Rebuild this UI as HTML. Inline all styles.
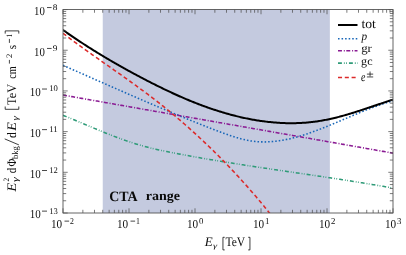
<!DOCTYPE html>
<html><head><meta charset="utf-8"><title>CTA background</title>
<style>
html,body{margin:0;padding:0;background:#fff;}
svg{display:block;font-family:"Liberation Serif",serif;will-change:transform;text-rendering:geometricPrecision;}
</style></head>
<body>
<svg width="406" height="255" viewBox="0 0 406 255">
<rect width="406" height="255" fill="#ffffff"/>
<defs><clipPath id="c"><rect x="63.0" y="9.55" width="330.00" height="203.45"/></clipPath></defs>
<rect x="102.75" y="9.55" width="227.10" height="203.45" fill="#c4cadf"/>
<g clip-path="url(#c)" fill="none" stroke-linejoin="round">
<path d="M63.00,65.29 L64.10,65.78 L65.21,66.26 L66.31,66.75 L67.41,67.24 L68.52,67.73 L69.62,68.21 L70.73,68.70 L71.83,69.19 L72.93,69.68 L74.04,70.17 L75.14,70.65 L76.24,71.14 L77.35,71.63 L78.45,72.12 L79.56,72.61 L80.66,73.09 L81.76,73.58 L82.87,74.07 L83.97,74.56 L85.07,75.05 L86.18,75.53 L87.28,76.02 L88.38,76.51 L89.49,77.00 L90.59,77.48 L91.70,77.97 L92.80,78.46 L93.90,78.94 L95.01,79.43 L96.11,79.92 L97.21,80.40 L98.32,80.89 L99.42,81.38 L100.53,81.86 L101.63,82.35 L102.73,82.83 L103.84,83.32 L104.94,83.81 L106.04,84.29 L107.15,84.78 L108.25,85.26 L109.35,85.74 L110.46,86.23 L111.56,86.71 L112.67,87.20 L113.77,87.68 L114.87,88.16 L115.98,88.65 L117.08,89.13 L118.18,89.61 L119.29,90.10 L120.39,90.58 L121.49,91.06 L122.60,91.54 L123.70,92.02 L124.81,92.50 L125.91,92.98 L127.01,93.46 L128.12,93.94 L129.22,94.42 L130.32,94.90 L131.43,95.38 L132.53,95.86 L133.64,96.34 L134.74,96.81 L135.84,97.29 L136.95,97.77 L138.05,98.25 L139.15,98.72 L140.26,99.20 L141.36,99.67 L142.46,100.15 L143.57,100.62 L144.67,101.10 L145.78,101.57 L146.88,102.04 L147.98,102.51 L149.09,102.99 L150.19,103.46 L151.29,103.93 L152.40,104.40 L153.50,104.87 L154.61,105.34 L155.71,105.81 L156.81,106.28 L157.92,106.75 L159.02,107.21 L160.12,107.68 L161.23,108.15 L162.33,108.61 L163.43,109.08 L164.54,109.54 L165.64,110.01 L166.75,110.47 L167.85,110.93 L168.95,111.40 L170.06,111.86 L171.16,112.32 L172.26,112.78 L173.37,113.24 L174.47,113.70 L175.58,114.16 L176.68,114.62 L177.78,115.07 L178.89,115.53 L179.99,115.99 L181.09,116.44 L182.20,116.90 L183.30,117.35 L184.40,117.80 L185.51,118.26 L186.61,118.71 L187.72,119.16 L188.82,119.61 L189.92,120.06 L191.03,120.51 L192.13,120.96 L193.23,121.40 L194.34,121.85 L195.44,122.30 L196.55,122.74 L197.65,123.18 L198.75,123.63 L199.86,124.07 L200.96,124.51 L202.06,124.95 L203.17,125.39 L204.27,125.82 L205.37,126.26 L206.48,126.69 L207.58,127.12 L208.69,127.55 L209.79,127.98 L210.89,128.41 L212.00,128.84 L213.10,129.26 L214.20,129.69 L215.31,130.11 L216.41,130.53 L217.52,130.94 L218.62,131.36 L219.72,131.77 L220.83,132.19 L221.93,132.60 L223.03,133.00 L224.14,133.41 L225.24,133.81 L226.34,134.21 L227.45,134.60 L228.55,134.99 L229.66,135.37 L230.76,135.75 L231.86,136.12 L232.97,136.49 L234.07,136.84 L235.17,137.19 L236.28,137.53 L237.38,137.86 L238.48,138.18 L239.59,138.49 L240.69,138.79 L241.80,139.08 L242.90,139.35 L244.00,139.61 L245.11,139.86 L246.21,140.10 L247.31,140.32 L248.42,140.53 L249.52,140.72 L250.63,140.90 L251.73,141.06 L252.83,141.21 L253.94,141.35 L255.04,141.46 L256.14,141.57 L257.25,141.66 L258.35,141.73 L259.45,141.80 L260.56,141.84 L261.66,141.88 L262.77,141.90 L263.87,141.91 L264.97,141.90 L266.08,141.89 L267.18,141.86 L268.28,141.82 L269.39,141.76 L270.49,141.70 L271.60,141.62 L272.70,141.53 L273.80,141.43 L274.91,141.31 L276.01,141.19 L277.11,141.05 L278.22,140.91 L279.32,140.75 L280.42,140.58 L281.53,140.41 L282.63,140.22 L283.74,140.02 L284.84,139.82 L285.94,139.60 L287.05,139.37 L288.15,139.14 L289.25,138.89 L290.36,138.64 L291.46,138.38 L292.57,138.11 L293.67,137.83 L294.77,137.54 L295.88,137.25 L296.98,136.95 L298.08,136.64 L299.19,136.32 L300.29,136.00 L301.39,135.66 L302.50,135.32 L303.60,134.98 L304.71,134.63 L305.81,134.27 L306.91,133.90 L308.02,133.53 L309.12,133.16 L310.22,132.77 L311.33,132.39 L312.43,131.99 L313.54,131.60 L314.64,131.19 L315.74,130.78 L316.85,130.37 L317.95,129.95 L319.05,129.53 L320.16,129.11 L321.26,128.68 L322.36,128.25 L323.47,127.81 L324.57,127.37 L325.68,126.93 L326.78,126.48 L327.88,126.03 L328.99,125.58 L330.09,125.12 L331.19,124.67 L332.30,124.21 L333.40,123.75 L334.51,123.29 L335.61,122.82 L336.71,122.36 L337.82,121.89 L338.92,121.42 L340.02,120.95 L341.13,120.49 L342.23,120.02 L343.33,119.55 L344.44,119.07 L345.54,118.60 L346.65,118.13 L347.75,117.66 L348.85,117.19 L349.96,116.73 L351.06,116.26 L352.16,115.79 L353.27,115.33 L354.37,114.86 L355.47,114.40 L356.58,113.94 L357.68,113.48 L358.79,113.02 L359.89,112.57 L360.99,112.12 L362.10,111.67 L363.20,111.22 L364.30,110.78 L365.41,110.34 L366.51,109.90 L367.62,109.47 L368.72,109.04 L369.82,108.61 L370.93,108.19 L372.03,107.77 L373.13,107.36 L374.24,106.95 L375.34,106.54 L376.44,106.15 L377.55,105.75 L378.65,105.36 L379.76,104.98 L380.86,104.60 L381.96,104.23 L383.07,103.87 L384.17,103.51 L385.27,103.15 L386.38,102.81 L387.48,102.47 L388.59,102.13 L389.69,101.81 L390.79,101.49 L391.90,101.18 L393.00,100.88" stroke="#1766b8" stroke-width="1.55" stroke-dasharray="1.55 2.0"/>
<path d="M63.00,95.08 L64.10,95.28 L65.21,95.47 L66.31,95.66 L67.41,95.86 L68.52,96.05 L69.62,96.25 L70.73,96.44 L71.83,96.63 L72.93,96.83 L74.04,97.02 L75.14,97.22 L76.24,97.41 L77.35,97.61 L78.45,97.80 L79.56,97.99 L80.66,98.19 L81.76,98.38 L82.87,98.58 L83.97,98.77 L85.07,98.96 L86.18,99.16 L87.28,99.35 L88.38,99.55 L89.49,99.74 L90.59,99.93 L91.70,100.13 L92.80,100.32 L93.90,100.52 L95.01,100.71 L96.11,100.90 L97.21,101.10 L98.32,101.29 L99.42,101.49 L100.53,101.68 L101.63,101.88 L102.73,102.07 L103.84,102.26 L104.94,102.46 L106.04,102.65 L107.15,102.85 L108.25,103.04 L109.35,103.23 L110.46,103.43 L111.56,103.62 L112.67,103.82 L113.77,104.01 L114.87,104.20 L115.98,104.40 L117.08,104.59 L118.18,104.79 L119.29,104.98 L120.39,105.17 L121.49,105.37 L122.60,105.56 L123.70,105.76 L124.81,105.95 L125.91,106.15 L127.01,106.34 L128.12,106.53 L129.22,106.73 L130.32,106.92 L131.43,107.12 L132.53,107.31 L133.64,107.50 L134.74,107.70 L135.84,107.89 L136.95,108.09 L138.05,108.28 L139.15,108.47 L140.26,108.67 L141.36,108.86 L142.46,109.06 L143.57,109.25 L144.67,109.44 L145.78,109.64 L146.88,109.83 L147.98,110.03 L149.09,110.22 L150.19,110.42 L151.29,110.61 L152.40,110.80 L153.50,111.00 L154.61,111.19 L155.71,111.39 L156.81,111.58 L157.92,111.77 L159.02,111.97 L160.12,112.16 L161.23,112.36 L162.33,112.55 L163.43,112.74 L164.54,112.94 L165.64,113.13 L166.75,113.33 L167.85,113.52 L168.95,113.71 L170.06,113.91 L171.16,114.10 L172.26,114.30 L173.37,114.49 L174.47,114.69 L175.58,114.88 L176.68,115.07 L177.78,115.27 L178.89,115.46 L179.99,115.66 L181.09,115.85 L182.20,116.04 L183.30,116.24 L184.40,116.43 L185.51,116.63 L186.61,116.82 L187.72,117.01 L188.82,117.21 L189.92,117.40 L191.03,117.60 L192.13,117.79 L193.23,117.98 L194.34,118.18 L195.44,118.37 L196.55,118.57 L197.65,118.76 L198.75,118.96 L199.86,119.15 L200.96,119.34 L202.06,119.54 L203.17,119.73 L204.27,119.93 L205.37,120.12 L206.48,120.31 L207.58,120.51 L208.69,120.70 L209.79,120.90 L210.89,121.09 L212.00,121.28 L213.10,121.48 L214.20,121.67 L215.31,121.87 L216.41,122.06 L217.52,122.25 L218.62,122.45 L219.72,122.64 L220.83,122.84 L221.93,123.03 L223.03,123.23 L224.14,123.42 L225.24,123.61 L226.34,123.81 L227.45,124.00 L228.55,124.20 L229.66,124.39 L230.76,124.58 L231.86,124.78 L232.97,124.97 L234.07,125.17 L235.17,125.36 L236.28,125.55 L237.38,125.75 L238.48,125.94 L239.59,126.14 L240.69,126.33 L241.80,126.52 L242.90,126.72 L244.00,126.91 L245.11,127.11 L246.21,127.30 L247.31,127.50 L248.42,127.69 L249.52,127.88 L250.63,128.08 L251.73,128.27 L252.83,128.47 L253.94,128.66 L255.04,128.85 L256.14,129.05 L257.25,129.24 L258.35,129.44 L259.45,129.63 L260.56,129.82 L261.66,130.02 L262.77,130.21 L263.87,130.41 L264.97,130.60 L266.08,130.79 L267.18,130.99 L268.28,131.18 L269.39,131.38 L270.49,131.57 L271.60,131.77 L272.70,131.96 L273.80,132.15 L274.91,132.35 L276.01,132.54 L277.11,132.74 L278.22,132.93 L279.32,133.12 L280.42,133.32 L281.53,133.51 L282.63,133.71 L283.74,133.90 L284.84,134.09 L285.94,134.29 L287.05,134.48 L288.15,134.68 L289.25,134.87 L290.36,135.06 L291.46,135.26 L292.57,135.45 L293.67,135.65 L294.77,135.84 L295.88,136.04 L296.98,136.23 L298.08,136.42 L299.19,136.62 L300.29,136.81 L301.39,137.01 L302.50,137.20 L303.60,137.39 L304.71,137.59 L305.81,137.78 L306.91,137.98 L308.02,138.17 L309.12,138.36 L310.22,138.56 L311.33,138.75 L312.43,138.95 L313.54,139.14 L314.64,139.33 L315.74,139.53 L316.85,139.72 L317.95,139.92 L319.05,140.11 L320.16,140.31 L321.26,140.50 L322.36,140.69 L323.47,140.89 L324.57,141.08 L325.68,141.28 L326.78,141.47 L327.88,141.66 L328.99,141.86 L330.09,142.05 L331.19,142.25 L332.30,142.44 L333.40,142.63 L334.51,142.83 L335.61,143.02 L336.71,143.22 L337.82,143.41 L338.92,143.60 L340.02,143.80 L341.13,143.99 L342.23,144.19 L343.33,144.38 L344.44,144.58 L345.54,144.77 L346.65,144.96 L347.75,145.16 L348.85,145.35 L349.96,145.55 L351.06,145.74 L352.16,145.93 L353.27,146.13 L354.37,146.32 L355.47,146.52 L356.58,146.71 L357.68,146.90 L358.79,147.10 L359.89,147.29 L360.99,147.49 L362.10,147.68 L363.20,147.87 L364.30,148.07 L365.41,148.26 L366.51,148.46 L367.62,148.65 L368.72,148.85 L369.82,149.04 L370.93,149.23 L372.03,149.43 L373.13,149.62 L374.24,149.82 L375.34,150.01 L376.44,150.20 L377.55,150.40 L378.65,150.59 L379.76,150.79 L380.86,150.98 L381.96,151.17 L383.07,151.37 L384.17,151.56 L385.27,151.76 L386.38,151.95 L387.48,152.14 L388.59,152.34 L389.69,152.53 L390.79,152.73 L391.90,152.92 L393.00,153.12" stroke="#8a1a93" stroke-width="1.55" stroke-dasharray="3.95 1.85 1.0 1.5"/>
<path d="M63.00,115.33 L64.10,115.76 L65.21,116.19 L66.31,116.63 L67.41,117.08 L68.52,117.52 L69.62,117.97 L70.73,118.42 L71.83,118.87 L72.93,119.33 L74.04,119.78 L75.14,120.24 L76.24,120.70 L77.35,121.16 L78.45,121.62 L79.56,122.09 L80.66,122.55 L81.76,123.02 L82.87,123.48 L83.97,123.95 L85.07,124.42 L86.18,124.88 L87.28,125.35 L88.38,125.82 L89.49,126.29 L90.59,126.75 L91.70,127.22 L92.80,127.69 L93.90,128.15 L95.01,128.61 L96.11,129.08 L97.21,129.54 L98.32,130.00 L99.42,130.45 L100.53,130.91 L101.63,131.36 L102.73,131.82 L103.84,132.27 L104.94,132.71 L106.04,133.16 L107.15,133.60 L108.25,134.04 L109.35,134.48 L110.46,134.91 L111.56,135.34 L112.67,135.77 L113.77,136.19 L114.87,136.62 L115.98,137.03 L117.08,137.45 L118.18,137.86 L119.29,138.27 L120.39,138.67 L121.49,139.07 L122.60,139.47 L123.70,139.86 L124.81,140.25 L125.91,140.63 L127.01,141.01 L128.12,141.39 L129.22,141.76 L130.32,142.13 L131.43,142.49 L132.53,142.85 L133.64,143.20 L134.74,143.54 L135.84,143.89 L136.95,144.22 L138.05,144.56 L139.15,144.88 L140.26,145.20 L141.36,145.52 L142.46,145.83 L143.57,146.13 L144.67,146.43 L145.78,146.73 L146.88,147.02 L147.98,147.30 L149.09,147.58 L150.19,147.86 L151.29,148.13 L152.40,148.39 L153.50,148.66 L154.61,148.92 L155.71,149.17 L156.81,149.42 L157.92,149.67 L159.02,149.91 L160.12,150.15 L161.23,150.39 L162.33,150.63 L163.43,150.86 L164.54,151.09 L165.64,151.32 L166.75,151.54 L167.85,151.77 L168.95,151.99 L170.06,152.21 L171.16,152.43 L172.26,152.64 L173.37,152.86 L174.47,153.07 L175.58,153.29 L176.68,153.50 L177.78,153.71 L178.89,153.92 L179.99,154.13 L181.09,154.34 L182.20,154.55 L183.30,154.75 L184.40,154.96 L185.51,155.16 L186.61,155.37 L187.72,155.57 L188.82,155.77 L189.92,155.98 L191.03,156.18 L192.13,156.38 L193.23,156.58 L194.34,156.77 L195.44,156.97 L196.55,157.17 L197.65,157.36 L198.75,157.56 L199.86,157.75 L200.96,157.95 L202.06,158.14 L203.17,158.33 L204.27,158.52 L205.37,158.71 L206.48,158.90 L207.58,159.09 L208.69,159.28 L209.79,159.47 L210.89,159.66 L212.00,159.84 L213.10,160.03 L214.20,160.21 L215.31,160.40 L216.41,160.58 L217.52,160.77 L218.62,160.95 L219.72,161.13 L220.83,161.31 L221.93,161.49 L223.03,161.67 L224.14,161.85 L225.24,162.03 L226.34,162.21 L227.45,162.39 L228.55,162.57 L229.66,162.74 L230.76,162.92 L231.86,163.10 L232.97,163.27 L234.07,163.45 L235.17,163.62 L236.28,163.80 L237.38,163.97 L238.48,164.14 L239.59,164.31 L240.69,164.49 L241.80,164.66 L242.90,164.83 L244.00,165.00 L245.11,165.17 L246.21,165.34 L247.31,165.51 L248.42,165.68 L249.52,165.85 L250.63,166.02 L251.73,166.19 L252.83,166.36 L253.94,166.52 L255.04,166.69 L256.14,166.86 L257.25,167.03 L258.35,167.19 L259.45,167.36 L260.56,167.52 L261.66,167.69 L262.77,167.86 L263.87,168.02 L264.97,168.19 L266.08,168.35 L267.18,168.52 L268.28,168.68 L269.39,168.84 L270.49,169.01 L271.60,169.17 L272.70,169.33 L273.80,169.50 L274.91,169.66 L276.01,169.82 L277.11,169.99 L278.22,170.15 L279.32,170.31 L280.42,170.48 L281.53,170.64 L282.63,170.80 L283.74,170.96 L284.84,171.12 L285.94,171.29 L287.05,171.45 L288.15,171.61 L289.25,171.77 L290.36,171.93 L291.46,172.10 L292.57,172.26 L293.67,172.42 L294.77,172.58 L295.88,172.74 L296.98,172.91 L298.08,173.07 L299.19,173.23 L300.29,173.39 L301.39,173.55 L302.50,173.72 L303.60,173.88 L304.71,174.04 L305.81,174.20 L306.91,174.37 L308.02,174.53 L309.12,174.69 L310.22,174.85 L311.33,175.02 L312.43,175.18 L313.54,175.34 L314.64,175.51 L315.74,175.67 L316.85,175.83 L317.95,176.00 L319.05,176.16 L320.16,176.33 L321.26,176.49 L322.36,176.66 L323.47,176.82 L324.57,176.99 L325.68,177.15 L326.78,177.32 L327.88,177.48 L328.99,177.65 L330.09,177.82 L331.19,177.98 L332.30,178.15 L333.40,178.32 L334.51,178.49 L335.61,178.66 L336.71,178.82 L337.82,178.99 L338.92,179.16 L340.02,179.33 L341.13,179.50 L342.23,179.67 L343.33,179.84 L344.44,180.01 L345.54,180.19 L346.65,180.36 L347.75,180.53 L348.85,180.70 L349.96,180.88 L351.06,181.05 L352.16,181.22 L353.27,181.40 L354.37,181.57 L355.47,181.75 L356.58,181.93 L357.68,182.10 L358.79,182.28 L359.89,182.46 L360.99,182.64 L362.10,182.82 L363.20,182.99 L364.30,183.17 L365.41,183.36 L366.51,183.54 L367.62,183.72 L368.72,183.90 L369.82,184.08 L370.93,184.27 L372.03,184.45 L373.13,184.64 L374.24,184.82 L375.34,185.01 L376.44,185.19 L377.55,185.38 L378.65,185.57 L379.76,185.76 L380.86,185.95 L381.96,186.14 L383.07,186.33 L384.17,186.52 L385.27,186.71 L386.38,186.91 L387.48,187.10 L388.59,187.30 L389.69,187.49 L390.79,187.69 L391.90,187.88 L393.00,188.08" stroke="#2f9b78" stroke-width="1.55" stroke-dasharray="3.9 2.0 0.8 1.45 0.8 2.0"/>
<path d="M63.00,33.27 L64.10,34.11 L65.21,34.95 L66.31,35.79 L67.41,36.62 L68.52,37.45 L69.62,38.27 L70.73,39.09 L71.83,39.91 L72.93,40.73 L74.04,41.55 L75.14,42.36 L76.24,43.17 L77.35,43.97 L78.45,44.78 L79.56,45.58 L80.66,46.38 L81.76,47.18 L82.87,47.97 L83.97,48.76 L85.07,49.56 L86.18,50.35 L87.28,51.13 L88.38,51.92 L89.49,52.71 L90.59,53.49 L91.70,54.27 L92.80,55.05 L93.90,55.83 L95.01,56.61 L96.11,57.39 L97.21,58.17 L98.32,58.95 L99.42,59.72 L100.53,60.50 L101.63,61.27 L102.73,62.04 L103.84,62.82 L104.94,63.59 L106.04,64.36 L107.15,65.14 L108.25,65.91 L109.35,66.68 L110.46,67.46 L111.56,68.23 L112.67,69.00 L113.77,69.78 L114.87,70.55 L115.98,71.33 L117.08,72.11 L118.18,72.88 L119.29,73.66 L120.39,74.44 L121.49,75.22 L122.60,76.00 L123.70,76.78 L124.81,77.56 L125.91,78.35 L127.01,79.14 L128.12,79.92 L129.22,80.71 L130.32,81.50 L131.43,82.30 L132.53,83.09 L133.64,83.89 L134.74,84.69 L135.84,85.49 L136.95,86.29 L138.05,87.10 L139.15,87.90 L140.26,88.72 L141.36,89.53 L142.46,90.34 L143.57,91.16 L144.67,91.98 L145.78,92.81 L146.88,93.64 L147.98,94.47 L149.09,95.30 L150.19,96.14 L151.29,96.98 L152.40,97.82 L153.50,98.67 L154.61,99.52 L155.71,100.38 L156.81,101.23 L157.92,102.10 L159.02,102.96 L160.12,103.83 L161.23,104.71 L162.33,105.59 L163.43,106.47 L164.54,107.36 L165.64,108.25 L166.75,109.14 L167.85,110.04 L168.95,110.95 L170.06,111.85 L171.16,112.77 L172.26,113.68 L173.37,114.60 L174.47,115.53 L175.58,116.45 L176.68,117.39 L177.78,118.32 L178.89,119.26 L179.99,120.21 L181.09,121.16 L182.20,122.11 L183.30,123.07 L184.40,124.03 L185.51,125.00 L186.61,125.97 L187.72,126.94 L188.82,127.92 L189.92,128.90 L191.03,129.89 L192.13,130.88 L193.23,131.88 L194.34,132.88 L195.44,133.88 L196.55,134.89 L197.65,135.91 L198.75,136.92 L199.86,137.95 L200.96,138.97 L202.06,140.00 L203.17,141.04 L204.27,142.08 L205.37,143.12 L206.48,144.17 L207.58,145.23 L208.69,146.29 L209.79,147.35 L210.89,148.42 L212.00,149.49 L213.10,150.57 L214.20,151.66 L215.31,152.74 L216.41,153.84 L217.52,154.94 L218.62,156.04 L219.72,157.15 L220.83,158.26 L221.93,159.38 L223.03,160.50 L224.14,161.63 L225.24,162.77 L226.34,163.91 L227.45,165.05 L228.55,166.21 L229.66,167.36 L230.76,168.52 L231.86,169.69 L232.97,170.86 L234.07,172.04 L235.17,173.23 L236.28,174.42 L237.38,175.61 L238.48,176.81 L239.59,178.02 L240.69,179.23 L241.80,180.45 L242.90,181.67 L244.00,182.90 L245.11,184.14 L246.21,185.38 L247.31,186.63 L248.42,187.88 L249.52,189.14 L250.63,190.41 L251.73,191.68 L252.83,192.96 L253.94,194.25 L255.04,195.54 L256.14,196.84 L257.25,198.14 L258.35,199.45 L259.45,200.77 L260.56,202.09 L261.66,203.42 L262.77,204.76 L263.87,206.10 L264.97,207.45 L266.08,208.80 L267.18,210.17 L268.28,211.53 L269.39,212.91 L270.49,214.29 L271.60,215.68 L272.70,217.08 L273.80,218.48 L274.91,219.89 L276.01,221.31 L277.11,222.73 L278.22,224.16 L279.32,225.60 L280.42,227.05 L281.53,228.50 L282.63,229.96 L283.74,231.43 L284.84,232.90 L285.94,234.38 L287.05,235.87 L288.15,237.37 L289.25,238.87 L290.36,240.38 L291.46,241.90 L292.57,243.42 L293.67,244.96 L294.77,246.50 L295.88,248.05 L296.98,249.60 L298.08,251.16 L299.19,252.74 L300.29,254.31 L301.39,255.90 L302.50,257.50 L303.60,259.10 L304.71,260.71 L305.81,262.33 L306.91,263.95 L308.02,265.59 L309.12,267.23 L310.22,268.88 L311.33,270.54 L312.43,272.20 L313.54,273.88 L314.64,275.56 L315.74,277.25 L316.85,278.95 L317.95,280.66 L319.05,282.38 L320.16,284.10 L321.26,285.83 L322.36,287.57 L323.47,289.32 L324.57,291.08 L325.68,292.85 L326.78,294.63 L327.88,296.41 L328.99,298.20 L330.09,300.00 L331.19,301.81 L332.30,303.63 L333.40,305.46 L334.51,307.30 L335.61,309.14 L336.71,311.00 L337.82,312.86 L338.92,314.73 L340.02,316.61 L341.13,318.51 L342.23,320.41 L343.33,322.31 L344.44,324.23 L345.54,326.16 L346.65,328.10 L347.75,330.04 L348.85,332.00 L349.96,333.96 L351.06,335.93 L352.16,337.92 L353.27,339.91 L354.37,341.91 L355.47,343.92 L356.58,345.95 L357.68,347.98 L358.79,350.02 L359.89,352.07 L360.99,354.13 L362.10,356.20 L363.20,358.28 L364.30,360.37 L365.41,362.47 L366.51,364.57 L367.62,366.69 L368.72,368.82 L369.82,370.96 L370.93,373.11 L372.03,375.27 L373.13,377.44 L374.24,379.62 L375.34,381.81 L376.44,384.01 L377.55,386.22 L378.65,388.44 L379.76,390.67 L380.86,392.91 L381.96,395.16 L383.07,397.42 L384.17,399.69 L385.27,401.98 L386.38,404.27 L387.48,406.57 L388.59,408.89 L389.69,411.21 L390.79,413.55 L391.90,415.90 L393.00,418.25" stroke="#dc2a2a" stroke-width="1.55" stroke-dasharray="4.05 2.75"/>
<path d="M63.00,29.93 L64.10,30.72 L65.21,31.50 L66.31,32.28 L67.41,33.06 L68.52,33.83 L69.62,34.59 L70.73,35.36 L71.83,36.12 L72.93,36.87 L74.04,37.62 L75.14,38.37 L76.24,39.11 L77.35,39.85 L78.45,40.59 L79.56,41.32 L80.66,42.05 L81.76,42.78 L82.87,43.50 L83.97,44.22 L85.07,44.93 L86.18,45.64 L87.28,46.35 L88.38,47.05 L89.49,47.75 L90.59,48.45 L91.70,49.15 L92.80,49.84 L93.90,50.53 L95.01,51.21 L96.11,51.90 L97.21,52.58 L98.32,53.25 L99.42,53.93 L100.53,54.60 L101.63,55.26 L102.73,55.93 L103.84,56.59 L104.94,57.25 L106.04,57.91 L107.15,58.56 L108.25,59.21 L109.35,59.86 L110.46,60.51 L111.56,61.15 L112.67,61.80 L113.77,62.43 L114.87,63.07 L115.98,63.70 L117.08,64.34 L118.18,64.97 L119.29,65.59 L120.39,66.22 L121.49,66.84 L122.60,67.46 L123.70,68.08 L124.81,68.69 L125.91,69.30 L127.01,69.91 L128.12,70.52 L129.22,71.13 L130.32,71.73 L131.43,72.33 L132.53,72.93 L133.64,73.53 L134.74,74.12 L135.84,74.72 L136.95,75.31 L138.05,75.89 L139.15,76.48 L140.26,77.06 L141.36,77.65 L142.46,78.22 L143.57,78.80 L144.67,79.38 L145.78,79.95 L146.88,80.52 L147.98,81.09 L149.09,81.65 L150.19,82.22 L151.29,82.78 L152.40,83.34 L153.50,83.89 L154.61,84.45 L155.71,85.00 L156.81,85.55 L157.92,86.10 L159.02,86.64 L160.12,87.18 L161.23,87.72 L162.33,88.26 L163.43,88.80 L164.54,89.33 L165.64,89.86 L166.75,90.39 L167.85,90.91 L168.95,91.43 L170.06,91.95 L171.16,92.47 L172.26,92.98 L173.37,93.49 L174.47,93.99 L175.58,94.49 L176.68,94.99 L177.78,95.49 L178.89,95.98 L179.99,96.47 L181.09,96.95 L182.20,97.44 L183.30,97.91 L184.40,98.39 L185.51,98.86 L186.61,99.33 L187.72,99.79 L188.82,100.25 L189.92,100.70 L191.03,101.15 L192.13,101.60 L193.23,102.05 L194.34,102.49 L195.44,102.92 L196.55,103.35 L197.65,103.78 L198.75,104.20 L199.86,104.62 L200.96,105.04 L202.06,105.45 L203.17,105.86 L204.27,106.26 L205.37,106.66 L206.48,107.05 L207.58,107.45 L208.69,107.83 L209.79,108.21 L210.89,108.59 L212.00,108.97 L213.10,109.33 L214.20,109.70 L215.31,110.06 L216.41,110.42 L217.52,110.77 L218.62,111.12 L219.72,111.46 L220.83,111.80 L221.93,112.14 L223.03,112.47 L224.14,112.80 L225.24,113.12 L226.34,113.44 L227.45,113.75 L228.55,114.06 L229.66,114.37 L230.76,114.67 L231.86,114.96 L232.97,115.26 L234.07,115.54 L235.17,115.82 L236.28,116.10 L237.38,116.37 L238.48,116.64 L239.59,116.90 L240.69,117.16 L241.80,117.41 L242.90,117.66 L244.00,117.90 L245.11,118.14 L246.21,118.37 L247.31,118.60 L248.42,118.82 L249.52,119.03 L250.63,119.24 L251.73,119.45 L252.83,119.65 L253.94,119.84 L255.04,120.03 L256.14,120.22 L257.25,120.39 L258.35,120.57 L259.45,120.74 L260.56,120.90 L261.66,121.06 L262.77,121.21 L263.87,121.35 L264.97,121.50 L266.08,121.63 L267.18,121.76 L268.28,121.89 L269.39,122.01 L270.49,122.12 L271.60,122.23 L272.70,122.33 L273.80,122.43 L274.91,122.52 L276.01,122.61 L277.11,122.69 L278.22,122.77 L279.32,122.84 L280.42,122.90 L281.53,122.96 L282.63,123.01 L283.74,123.05 L284.84,123.09 L285.94,123.13 L287.05,123.15 L288.15,123.18 L289.25,123.19 L290.36,123.20 L291.46,123.20 L292.57,123.20 L293.67,123.19 L294.77,123.17 L295.88,123.15 L296.98,123.12 L298.08,123.08 L299.19,123.04 L300.29,122.99 L301.39,122.93 L302.50,122.87 L303.60,122.80 L304.71,122.72 L305.81,122.63 L306.91,122.54 L308.02,122.44 L309.12,122.34 L310.22,122.22 L311.33,122.10 L312.43,121.98 L313.54,121.84 L314.64,121.70 L315.74,121.55 L316.85,121.39 L317.95,121.23 L319.05,121.06 L320.16,120.88 L321.26,120.70 L322.36,120.50 L323.47,120.31 L324.57,120.10 L325.68,119.89 L326.78,119.67 L327.88,119.44 L328.99,119.21 L330.09,118.97 L331.19,118.73 L332.30,118.48 L333.40,118.22 L334.51,117.96 L335.61,117.69 L336.71,117.41 L337.82,117.13 L338.92,116.85 L340.02,116.56 L341.13,116.26 L342.23,115.96 L343.33,115.65 L344.44,115.34 L345.54,115.03 L346.65,114.71 L347.75,114.39 L348.85,114.06 L349.96,113.73 L351.06,113.39 L352.16,113.06 L353.27,112.71 L354.37,112.37 L355.47,112.02 L356.58,111.67 L357.68,111.32 L358.79,110.96 L359.89,110.60 L360.99,110.24 L362.10,109.88 L363.20,109.52 L364.30,109.15 L365.41,108.78 L366.51,108.41 L367.62,108.04 L368.72,107.67 L369.82,107.30 L370.93,106.93 L372.03,106.56 L373.13,106.18 L374.24,105.81 L375.34,105.44 L376.44,105.06 L377.55,104.69 L378.65,104.32 L379.76,103.95 L380.86,103.58 L381.96,103.21 L383.07,102.84 L384.17,102.47 L385.27,102.10 L386.38,101.74 L387.48,101.38 L388.59,101.02 L389.69,100.66 L390.79,100.30 L391.90,99.95 L393.00,99.60" stroke="#000" stroke-width="2.0"/>
</g>
<g stroke="#505050" stroke-width="0.75" fill="none">
<line x1="63.00" y1="213.0" x2="63.00" y2="208.3"/>
<line x1="63.00" y1="9.55" x2="63.00" y2="14.25"/>
<line x1="82.87" y1="213.0" x2="82.87" y2="209.8"/>
<line x1="82.87" y1="9.55" x2="82.87" y2="12.75"/>
<line x1="94.49" y1="213.0" x2="94.49" y2="209.8"/>
<line x1="94.49" y1="9.55" x2="94.49" y2="12.75"/>
<line x1="102.74" y1="213.0" x2="102.74" y2="209.8"/>
<line x1="102.74" y1="9.55" x2="102.74" y2="12.75"/>
<line x1="109.13" y1="213.0" x2="109.13" y2="209.8"/>
<line x1="109.13" y1="9.55" x2="109.13" y2="12.75"/>
<line x1="114.36" y1="213.0" x2="114.36" y2="209.8"/>
<line x1="114.36" y1="9.55" x2="114.36" y2="12.75"/>
<line x1="118.78" y1="213.0" x2="118.78" y2="209.8"/>
<line x1="118.78" y1="9.55" x2="118.78" y2="12.75"/>
<line x1="122.60" y1="213.0" x2="122.60" y2="209.8"/>
<line x1="122.60" y1="9.55" x2="122.60" y2="12.75"/>
<line x1="125.98" y1="213.0" x2="125.98" y2="209.8"/>
<line x1="125.98" y1="9.55" x2="125.98" y2="12.75"/>
<line x1="129.00" y1="213.0" x2="129.00" y2="208.3"/>
<line x1="129.00" y1="9.55" x2="129.00" y2="14.25"/>
<line x1="148.87" y1="213.0" x2="148.87" y2="209.8"/>
<line x1="148.87" y1="9.55" x2="148.87" y2="12.75"/>
<line x1="160.49" y1="213.0" x2="160.49" y2="209.8"/>
<line x1="160.49" y1="9.55" x2="160.49" y2="12.75"/>
<line x1="168.74" y1="213.0" x2="168.74" y2="209.8"/>
<line x1="168.74" y1="9.55" x2="168.74" y2="12.75"/>
<line x1="175.13" y1="213.0" x2="175.13" y2="209.8"/>
<line x1="175.13" y1="9.55" x2="175.13" y2="12.75"/>
<line x1="180.36" y1="213.0" x2="180.36" y2="209.8"/>
<line x1="180.36" y1="9.55" x2="180.36" y2="12.75"/>
<line x1="184.78" y1="213.0" x2="184.78" y2="209.8"/>
<line x1="184.78" y1="9.55" x2="184.78" y2="12.75"/>
<line x1="188.60" y1="213.0" x2="188.60" y2="209.8"/>
<line x1="188.60" y1="9.55" x2="188.60" y2="12.75"/>
<line x1="191.98" y1="213.0" x2="191.98" y2="209.8"/>
<line x1="191.98" y1="9.55" x2="191.98" y2="12.75"/>
<line x1="195.00" y1="213.0" x2="195.00" y2="208.3"/>
<line x1="195.00" y1="9.55" x2="195.00" y2="14.25"/>
<line x1="214.87" y1="213.0" x2="214.87" y2="209.8"/>
<line x1="214.87" y1="9.55" x2="214.87" y2="12.75"/>
<line x1="226.49" y1="213.0" x2="226.49" y2="209.8"/>
<line x1="226.49" y1="9.55" x2="226.49" y2="12.75"/>
<line x1="234.74" y1="213.0" x2="234.74" y2="209.8"/>
<line x1="234.74" y1="9.55" x2="234.74" y2="12.75"/>
<line x1="241.13" y1="213.0" x2="241.13" y2="209.8"/>
<line x1="241.13" y1="9.55" x2="241.13" y2="12.75"/>
<line x1="246.36" y1="213.0" x2="246.36" y2="209.8"/>
<line x1="246.36" y1="9.55" x2="246.36" y2="12.75"/>
<line x1="250.78" y1="213.0" x2="250.78" y2="209.8"/>
<line x1="250.78" y1="9.55" x2="250.78" y2="12.75"/>
<line x1="254.60" y1="213.0" x2="254.60" y2="209.8"/>
<line x1="254.60" y1="9.55" x2="254.60" y2="12.75"/>
<line x1="257.98" y1="213.0" x2="257.98" y2="209.8"/>
<line x1="257.98" y1="9.55" x2="257.98" y2="12.75"/>
<line x1="261.00" y1="213.0" x2="261.00" y2="208.3"/>
<line x1="261.00" y1="9.55" x2="261.00" y2="14.25"/>
<line x1="280.87" y1="213.0" x2="280.87" y2="209.8"/>
<line x1="280.87" y1="9.55" x2="280.87" y2="12.75"/>
<line x1="292.49" y1="213.0" x2="292.49" y2="209.8"/>
<line x1="292.49" y1="9.55" x2="292.49" y2="12.75"/>
<line x1="300.74" y1="213.0" x2="300.74" y2="209.8"/>
<line x1="300.74" y1="9.55" x2="300.74" y2="12.75"/>
<line x1="307.13" y1="213.0" x2="307.13" y2="209.8"/>
<line x1="307.13" y1="9.55" x2="307.13" y2="12.75"/>
<line x1="312.36" y1="213.0" x2="312.36" y2="209.8"/>
<line x1="312.36" y1="9.55" x2="312.36" y2="12.75"/>
<line x1="316.78" y1="213.0" x2="316.78" y2="209.8"/>
<line x1="316.78" y1="9.55" x2="316.78" y2="12.75"/>
<line x1="320.60" y1="213.0" x2="320.60" y2="209.8"/>
<line x1="320.60" y1="9.55" x2="320.60" y2="12.75"/>
<line x1="323.98" y1="213.0" x2="323.98" y2="209.8"/>
<line x1="323.98" y1="9.55" x2="323.98" y2="12.75"/>
<line x1="327.00" y1="213.0" x2="327.00" y2="208.3"/>
<line x1="327.00" y1="9.55" x2="327.00" y2="14.25"/>
<line x1="346.87" y1="213.0" x2="346.87" y2="209.8"/>
<line x1="346.87" y1="9.55" x2="346.87" y2="12.75"/>
<line x1="358.49" y1="213.0" x2="358.49" y2="209.8"/>
<line x1="358.49" y1="9.55" x2="358.49" y2="12.75"/>
<line x1="366.74" y1="213.0" x2="366.74" y2="209.8"/>
<line x1="366.74" y1="9.55" x2="366.74" y2="12.75"/>
<line x1="373.13" y1="213.0" x2="373.13" y2="209.8"/>
<line x1="373.13" y1="9.55" x2="373.13" y2="12.75"/>
<line x1="378.36" y1="213.0" x2="378.36" y2="209.8"/>
<line x1="378.36" y1="9.55" x2="378.36" y2="12.75"/>
<line x1="382.78" y1="213.0" x2="382.78" y2="209.8"/>
<line x1="382.78" y1="9.55" x2="382.78" y2="12.75"/>
<line x1="386.60" y1="213.0" x2="386.60" y2="209.8"/>
<line x1="386.60" y1="9.55" x2="386.60" y2="12.75"/>
<line x1="389.98" y1="213.0" x2="389.98" y2="209.8"/>
<line x1="389.98" y1="9.55" x2="389.98" y2="12.75"/>
<line x1="393.00" y1="213.0" x2="393.00" y2="208.3"/>
<line x1="393.00" y1="9.55" x2="393.00" y2="14.25"/>
<line x1="63.0" y1="213.00" x2="67.7" y2="213.00"/>
<line x1="393.0" y1="213.00" x2="388.3" y2="213.00"/>
<line x1="63.0" y1="200.75" x2="66.2" y2="200.75"/>
<line x1="393.0" y1="200.75" x2="389.8" y2="200.75"/>
<line x1="63.0" y1="193.59" x2="66.2" y2="193.59"/>
<line x1="393.0" y1="193.59" x2="389.8" y2="193.59"/>
<line x1="63.0" y1="188.50" x2="66.2" y2="188.50"/>
<line x1="393.0" y1="188.50" x2="389.8" y2="188.50"/>
<line x1="63.0" y1="184.56" x2="66.2" y2="184.56"/>
<line x1="393.0" y1="184.56" x2="389.8" y2="184.56"/>
<line x1="63.0" y1="181.34" x2="66.2" y2="181.34"/>
<line x1="393.0" y1="181.34" x2="389.8" y2="181.34"/>
<line x1="63.0" y1="178.61" x2="66.2" y2="178.61"/>
<line x1="393.0" y1="178.61" x2="389.8" y2="178.61"/>
<line x1="63.0" y1="176.25" x2="66.2" y2="176.25"/>
<line x1="393.0" y1="176.25" x2="389.8" y2="176.25"/>
<line x1="63.0" y1="174.17" x2="66.2" y2="174.17"/>
<line x1="393.0" y1="174.17" x2="389.8" y2="174.17"/>
<line x1="63.0" y1="172.31" x2="67.7" y2="172.31"/>
<line x1="393.0" y1="172.31" x2="388.3" y2="172.31"/>
<line x1="63.0" y1="160.06" x2="66.2" y2="160.06"/>
<line x1="393.0" y1="160.06" x2="389.8" y2="160.06"/>
<line x1="63.0" y1="152.90" x2="66.2" y2="152.90"/>
<line x1="393.0" y1="152.90" x2="389.8" y2="152.90"/>
<line x1="63.0" y1="147.81" x2="66.2" y2="147.81"/>
<line x1="393.0" y1="147.81" x2="389.8" y2="147.81"/>
<line x1="63.0" y1="143.87" x2="66.2" y2="143.87"/>
<line x1="393.0" y1="143.87" x2="389.8" y2="143.87"/>
<line x1="63.0" y1="140.65" x2="66.2" y2="140.65"/>
<line x1="393.0" y1="140.65" x2="389.8" y2="140.65"/>
<line x1="63.0" y1="137.92" x2="66.2" y2="137.92"/>
<line x1="393.0" y1="137.92" x2="389.8" y2="137.92"/>
<line x1="63.0" y1="135.56" x2="66.2" y2="135.56"/>
<line x1="393.0" y1="135.56" x2="389.8" y2="135.56"/>
<line x1="63.0" y1="133.48" x2="66.2" y2="133.48"/>
<line x1="393.0" y1="133.48" x2="389.8" y2="133.48"/>
<line x1="63.0" y1="131.62" x2="67.7" y2="131.62"/>
<line x1="393.0" y1="131.62" x2="388.3" y2="131.62"/>
<line x1="63.0" y1="119.37" x2="66.2" y2="119.37"/>
<line x1="393.0" y1="119.37" x2="389.8" y2="119.37"/>
<line x1="63.0" y1="112.21" x2="66.2" y2="112.21"/>
<line x1="393.0" y1="112.21" x2="389.8" y2="112.21"/>
<line x1="63.0" y1="107.12" x2="66.2" y2="107.12"/>
<line x1="393.0" y1="107.12" x2="389.8" y2="107.12"/>
<line x1="63.0" y1="103.18" x2="66.2" y2="103.18"/>
<line x1="393.0" y1="103.18" x2="389.8" y2="103.18"/>
<line x1="63.0" y1="99.96" x2="66.2" y2="99.96"/>
<line x1="393.0" y1="99.96" x2="389.8" y2="99.96"/>
<line x1="63.0" y1="97.23" x2="66.2" y2="97.23"/>
<line x1="393.0" y1="97.23" x2="389.8" y2="97.23"/>
<line x1="63.0" y1="94.87" x2="66.2" y2="94.87"/>
<line x1="393.0" y1="94.87" x2="389.8" y2="94.87"/>
<line x1="63.0" y1="92.79" x2="66.2" y2="92.79"/>
<line x1="393.0" y1="92.79" x2="389.8" y2="92.79"/>
<line x1="63.0" y1="90.93" x2="67.7" y2="90.93"/>
<line x1="393.0" y1="90.93" x2="388.3" y2="90.93"/>
<line x1="63.0" y1="78.68" x2="66.2" y2="78.68"/>
<line x1="393.0" y1="78.68" x2="389.8" y2="78.68"/>
<line x1="63.0" y1="71.52" x2="66.2" y2="71.52"/>
<line x1="393.0" y1="71.52" x2="389.8" y2="71.52"/>
<line x1="63.0" y1="66.43" x2="66.2" y2="66.43"/>
<line x1="393.0" y1="66.43" x2="389.8" y2="66.43"/>
<line x1="63.0" y1="62.49" x2="66.2" y2="62.49"/>
<line x1="393.0" y1="62.49" x2="389.8" y2="62.49"/>
<line x1="63.0" y1="59.27" x2="66.2" y2="59.27"/>
<line x1="393.0" y1="59.27" x2="389.8" y2="59.27"/>
<line x1="63.0" y1="56.54" x2="66.2" y2="56.54"/>
<line x1="393.0" y1="56.54" x2="389.8" y2="56.54"/>
<line x1="63.0" y1="54.18" x2="66.2" y2="54.18"/>
<line x1="393.0" y1="54.18" x2="389.8" y2="54.18"/>
<line x1="63.0" y1="52.10" x2="66.2" y2="52.10"/>
<line x1="393.0" y1="52.10" x2="389.8" y2="52.10"/>
<line x1="63.0" y1="50.24" x2="67.7" y2="50.24"/>
<line x1="393.0" y1="50.24" x2="388.3" y2="50.24"/>
<line x1="63.0" y1="37.99" x2="66.2" y2="37.99"/>
<line x1="393.0" y1="37.99" x2="389.8" y2="37.99"/>
<line x1="63.0" y1="30.83" x2="66.2" y2="30.83"/>
<line x1="393.0" y1="30.83" x2="389.8" y2="30.83"/>
<line x1="63.0" y1="25.74" x2="66.2" y2="25.74"/>
<line x1="393.0" y1="25.74" x2="389.8" y2="25.74"/>
<line x1="63.0" y1="21.80" x2="66.2" y2="21.80"/>
<line x1="393.0" y1="21.80" x2="389.8" y2="21.80"/>
<line x1="63.0" y1="18.58" x2="66.2" y2="18.58"/>
<line x1="393.0" y1="18.58" x2="389.8" y2="18.58"/>
<line x1="63.0" y1="15.85" x2="66.2" y2="15.85"/>
<line x1="393.0" y1="15.85" x2="389.8" y2="15.85"/>
<line x1="63.0" y1="13.49" x2="66.2" y2="13.49"/>
<line x1="393.0" y1="13.49" x2="389.8" y2="13.49"/>
<line x1="63.0" y1="11.41" x2="66.2" y2="11.41"/>
<line x1="393.0" y1="11.41" x2="389.8" y2="11.41"/>
<line x1="63.0" y1="9.55" x2="67.7" y2="9.55"/>
<line x1="393.0" y1="9.55" x2="388.3" y2="9.55"/>
</g>
<rect x="63.0" y="9.55" width="330.00" height="203.45" fill="none" stroke="#555" stroke-width="0.9"/>
<g>
<text transform="translate(51.00,227.98) scale(0.889,0.964)" font-size="12.6" fill="#0e0e0e">10</text>
<rect x="64.50" y="220.72" width="4.60" height="0.75" fill="#0e0e0e"/>
<text transform="translate(70.00,223.60) scale(0.886,1.029)" font-size="8.8" fill="#0e0e0e">2</text>
<text transform="translate(117.00,227.98) scale(0.889,0.964)" font-size="12.6" fill="#0e0e0e">10</text>
<rect x="130.50" y="220.72" width="4.60" height="0.75" fill="#0e0e0e"/>
<text transform="translate(136.00,223.60) scale(0.886,1.033)" font-size="8.8" fill="#0e0e0e">1</text>
<text transform="translate(187.00,227.98) scale(0.889,0.964)" font-size="12.6" fill="#0e0e0e">10</text>
<text transform="translate(199.10,223.51) scale(1.000,1.010)" font-size="8.8" fill="#0e0e0e">0</text>
<text transform="translate(253.00,227.98) scale(0.889,0.964)" font-size="12.6" fill="#0e0e0e">10</text>
<text transform="translate(265.10,223.60) scale(1.000,1.033)" font-size="8.8" fill="#0e0e0e">1</text>
<text transform="translate(319.00,227.98) scale(0.889,0.964)" font-size="12.6" fill="#0e0e0e">10</text>
<text transform="translate(331.10,223.60) scale(1.000,1.029)" font-size="8.8" fill="#0e0e0e">2</text>
<text transform="translate(385.00,227.98) scale(0.889,0.964)" font-size="12.6" fill="#0e0e0e">10</text>
<text transform="translate(397.10,223.51) scale(1.000,1.014)" font-size="8.8" fill="#0e0e0e">3</text>
<text transform="translate(29.80,218.33) scale(0.873,0.970)" font-size="12.6" fill="#0e0e0e">10</text>
<rect x="42.00" y="210.72" width="5.00" height="0.75" fill="#0e0e0e"/>
<text transform="translate(49.20,213.51) scale(0.977,0.980)" font-size="8.8" fill="#0e0e0e">13</text>
<text transform="translate(29.80,177.64) scale(0.873,0.970)" font-size="12.6" fill="#0e0e0e">10</text>
<rect x="42.00" y="170.03" width="5.00" height="0.75" fill="#0e0e0e"/>
<text transform="translate(49.20,172.91) scale(0.977,0.995)" font-size="8.8" fill="#0e0e0e">12</text>
<text transform="translate(29.80,136.95) scale(0.873,0.970)" font-size="12.6" fill="#0e0e0e">10</text>
<rect x="42.00" y="129.34" width="5.00" height="0.75" fill="#0e0e0e"/>
<text transform="translate(49.20,132.22) scale(1.015,0.999)" font-size="8.8" fill="#0e0e0e">11</text>
<text transform="translate(29.80,96.26) scale(0.873,0.970)" font-size="12.6" fill="#0e0e0e">10</text>
<rect x="42.00" y="88.65" width="5.00" height="0.75" fill="#0e0e0e"/>
<text transform="translate(49.20,91.44) scale(0.977,0.976)" font-size="8.8" fill="#0e0e0e">10</text>
<text transform="translate(34.10,55.57) scale(0.857,0.970)" font-size="12.6" fill="#0e0e0e">10</text>
<rect x="47.00" y="47.96" width="4.60" height="0.75" fill="#0e0e0e"/>
<text transform="translate(52.80,50.75) scale(1.068,0.980)" font-size="8.8" fill="#0e0e0e">9</text>
<text transform="translate(34.10,14.88) scale(0.857,0.970)" font-size="12.6" fill="#0e0e0e">10</text>
<rect x="47.00" y="7.28" width="4.60" height="0.75" fill="#0e0e0e"/>
<text transform="translate(52.80,10.06) scale(1.068,0.976)" font-size="8.8" fill="#0e0e0e">8</text>
<text transform="translate(109.20,200.66) scale(1.068,1.098)" font-size="13" font-weight="bold" fill="#0a0a0a">CTA</text>
<text transform="translate(145.70,200.49) scale(1.079,1.019)" font-size="13" font-weight="bold" fill="#0a0a0a">range</text>
<text transform="translate(204.86,246.20) scale(1.033,1.030)" font-size="12.6" font-style="italic" fill="#0e0e0e">E</text>
<text transform="translate(213.00,248.15) scale(1.198,0.828)" font-size="8.8" font-style="italic" fill="#0e0e0e">γ</text>
<path d="M224.7,237.3H222.95V249.9H224.7" stroke="#0e0e0e" stroke-width="0.8" fill="none"/>
<text transform="translate(225.40,246.20) scale(0.920,1.030)" font-size="12.6" fill="#0e0e0e">TeV</text>
<path d="M248.2,237.3H249.95V249.9H248.2" stroke="#0e0e0e" stroke-width="0.8" fill="none"/>
<text transform="translate(361.40,28.17) scale(1.083,1.049)" font-size="12.6" fill="#0e0e0e">tot</text>
<text transform="translate(361.38,40.38) scale(0.893,0.942)" font-size="12.6" font-style="italic" fill="#0e0e0e">p</text>
<text transform="translate(361.20,52.05) scale(1.020,0.905)" font-size="12.6" fill="#0e0e0e">gr</text>
<text transform="translate(361.10,65.02) scale(0.957,0.916)" font-size="12.6" fill="#0e0e0e">gc</text>
<text transform="translate(361.10,81.07) scale(0.785,1.009)" font-size="12.6" font-style="italic" fill="#0e0e0e">e</text>
<path d="M366.9,74.1H373.2M370.05,71.5V76.4M366.9,76.95H373.2" stroke="#0e0e0e" stroke-width="0.75" fill="none"/>
</g>
<g transform="translate(16.3,200.0) rotate(-90)">
<text transform="translate(8.28,0.00) scale(1.173,1.030)" font-size="12.6" font-style="italic" fill="#0e0e0e">E</text>
<text transform="translate(18.50,-7.70) scale(0.841,0.926)" font-size="8.8" fill="#0e0e0e">2</text>
<text transform="translate(18.00,2.10) scale(1.388,0.963)" font-size="8.8" font-style="italic" fill="#0e0e0e">γ</text>
<text transform="translate(26.70,0.00) scale(0.873,1.030)" font-size="12.6" fill="#0e0e0e">d</text>
<text transform="translate(33.60,0.00) scale(0.859,1.030)" font-size="12.6" fill="#0e0e0e">Φ</text>
<text transform="translate(40.90,1.40) scale(0.977,1.000)" font-size="8.8" fill="#0e0e0e">bkg</text>
<path d="M55.10,2.60L61.10,-11.60" stroke="#0e0e0e" stroke-width="0.8" fill="none"/>
<text transform="translate(61.90,0.00) scale(0.921,1.030)" font-size="12.6" fill="#0e0e0e">d</text>
<text transform="translate(69.28,0.00) scale(1.122,1.030)" font-size="12.6" font-style="italic" fill="#0e0e0e">E</text>
<text transform="translate(79.50,1.23) scale(1.279,0.946)" font-size="8.8" font-style="italic" fill="#0e0e0e">γ</text>
<path d="M93.50,-11.10H90.70V2.50H93.50" stroke="#0e0e0e" stroke-width="0.8" fill="none"/>
<text transform="translate(95.10,0.00) scale(0.976,1.030)" font-size="12.6" fill="#0e0e0e">TeV</text>
<text transform="translate(121.20,0.00) scale(0.812,1.000)" font-size="12.6" fill="#0e0e0e">cm</text>
<rect x="136.40" y="-7.38" width="3.70" height="0.75" fill="#0e0e0e"/>
<text transform="translate(142.10,-4.70) scale(0.977,0.943)" font-size="8.8" fill="#0e0e0e">2</text>
<text transform="translate(150.80,0.00) scale(0.875,1.000)" font-size="12.6" fill="#0e0e0e">s</text>
<rect x="157.10" y="-7.38" width="4.00" height="0.75" fill="#0e0e0e"/>
<text transform="translate(162.80,-4.70) scale(0.705,0.947)" font-size="8.8" fill="#0e0e0e">1</text>
<path d="M166.40,-11.10H169.10V2.50H166.40" stroke="#0e0e0e" stroke-width="0.8" fill="none"/>
</g>
<g fill="none">
<line x1="338" y1="25.0" x2="357.5" y2="25.0" stroke="#000" stroke-width="2.0"/>
<line x1="338" y1="38.7" x2="357.5" y2="38.7" stroke="#1766b8" stroke-width="1.55" stroke-dasharray="1.55 2.0"/>
<line x1="338" y1="50.7" x2="357.5" y2="50.7" stroke="#8a1a93" stroke-width="1.55" stroke-dasharray="3.95 1.85 1.0 1.5"/>
<line x1="338" y1="63.1" x2="357.5" y2="63.1" stroke="#2f9b78" stroke-width="1.55" stroke-dasharray="3.9 2.0 0.8 1.45 0.8 2.0"/>
<line x1="338" y1="77.5" x2="357.5" y2="77.5" stroke="#dc2a2a" stroke-width="1.55" stroke-dasharray="4.05 2.75"/>
</g>
</svg>
</body></html>
